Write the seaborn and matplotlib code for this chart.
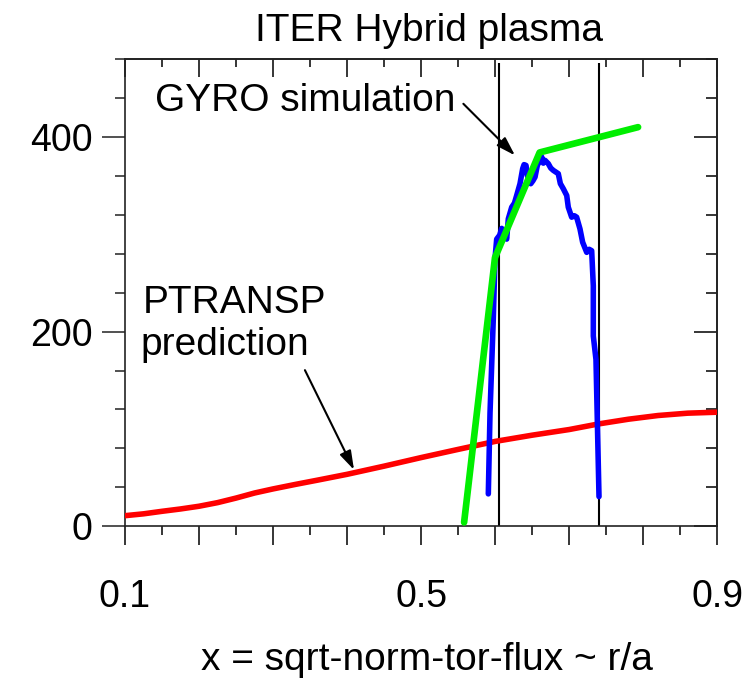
import numpy as np
import matplotlib
matplotlib.use('Agg')
import matplotlib.pyplot as plt
from matplotlib.ticker import MultipleLocator
import seaborn as sns

sns.set_theme(style='white')
plt.rcParams['font.family'] = ['Liberation Sans', 'DejaVu Sans']

# PTRANSP prediction (red)
ptransp_x = [0.100, 0.125, 0.150, 0.175, 0.200, 0.225, 0.250, 0.275, 0.300,
             0.330, 0.360, 0.400, 0.450, 0.500, 0.550, 0.600, 0.650, 0.700,
             0.740, 0.780, 0.820, 0.860, 0.900]
ptransp_y = [10.9, 12.8, 15.4, 17.8, 20.6, 24.3, 29.0, 34.2, 38.4,
             43.0, 47.4, 53.4, 61.8, 70.6, 79.0, 87.2, 93.6, 99.4,
             105.2, 110.0, 113.8, 116.2, 117.2]

# GYRO simulation (blue)
gyro_x = [0.5907, 0.5930, 0.5974, 0.5997, 0.6020, 0.6060, 0.6088, 0.6120,
          0.6155, 0.6177, 0.6223, 0.6260, 0.6290, 0.6335, 0.6371, 0.6390,
          0.6416, 0.6434, 0.6480, 0.6510, 0.6538, 0.6569, 0.6628, 0.6650,
          0.6673, 0.6717, 0.6750, 0.6785, 0.6852, 0.6880, 0.6920, 0.6966,
          0.6987, 0.7033, 0.7070, 0.7100, 0.7145, 0.7181, 0.7236, 0.7270,
          0.7303, 0.7325, 0.7325, 0.7361, 0.7379, 0.7402]
gyro_y = [33.3, 116.5, 212.7, 274.5, 295.0, 299.0, 306.0, 302.0,
          295.0, 315.8, 327.8, 332.0, 339.8, 351.9, 367.3, 371.5,
          370.7, 360.4, 351.9, 355.0, 358.8, 370.7, 379.4, 373.0,
          375.9, 372.5, 368.0, 365.6, 362.2, 352.0, 346.7, 339.8,
          327.8, 317.5, 319.0, 317.5, 305.5, 291.8, 281.4, 284.5,
          283.1, 247.0, 195.5, 171.4, 109.6, 30.5]

# piecewise fit (green)
fit_x = [0.558, 0.5997, 0.6600, 0.793]
fit_y = [4.0, 276.0, 384.0, 410.0]

# radial window
bound_x = [0.605, 0.740]

xtick_vals = [0.1, 0.2, 0.3, 0.4, 0.5, 0.6, 0.7, 0.8, 0.9]
xtick_labels = ['0.1', '', '', '', '0.5', '', '', '', '0.9']
ytick_vals = [0, 200, 400]
ytick_labels = ['0', '200', '400']

fig = plt.figure(figsize=(7.49, 6.79), dpi=100)
ax = fig.add_axes([0.1669, 0.2249, 0.7908, 0.6882])

ax.vlines(bound_x, 0, 476, color='black', linewidth=1.5, zorder=2)
sns.lineplot(x=ptransp_x, y=ptransp_y, ax=ax, color='#ff0000', linewidth=4.0,
             sort=False, estimator=None, zorder=3)
sns.lineplot(x=gyro_x, y=gyro_y, ax=ax, color='#0000ff', linewidth=4.0,
             sort=False, estimator=None, zorder=4)
sns.lineplot(x=fit_x, y=fit_y, ax=ax, color='#00ee00', linewidth=4.8,
             sort=False, estimator=None, zorder=5)

ax.set_xlim(0.1, 0.9)
ax.set_ylim(0, 480)
ax.set_xticks(xtick_vals, xtick_labels)
ax.set_yticks(ytick_vals, ytick_labels)
ax.xaxis.set_minor_locator(MultipleLocator(0.05))
ax.yaxis.set_minor_locator(MultipleLocator(40))

for s in ax.spines.values():
    s.set_color('#222222')
    s.set_linewidth(1.2)

ax.tick_params(axis='x', which='major', direction='out', length=13.7, width=1.1,
               pad=24, labelsize=27, bottom=True, color='black', labelcolor='black')
ax.tick_params(axis='x', which='minor', direction='out', length=6.5, width=1.1,
               bottom=True, color='black')
ax.tick_params(axis='y', which='major', direction='out', length=16.5, width=1.1,
               pad=7, labelsize=27, left=True, color='#222222', labelcolor='black')
ax.tick_params(axis='y', which='minor', direction='out', length=7.2, width=1.1,
               left=True, color='#222222')

top = ax.secondary_xaxis('top')
top.set_xticks(xtick_vals)
top.xaxis.set_minor_locator(MultipleLocator(0.05))
top.tick_params(which='major', direction='in', length=13, width=1.1, top=True,
                labeltop=False, color='black')
top.tick_params(which='minor', direction='in', length=5.8, width=1.1, top=True,
                color='black')
top.spines['top'].set_color('#222222')

right = ax.secondary_yaxis('right')
right.set_yticks(ytick_vals)
right.yaxis.set_minor_locator(MultipleLocator(40))
right.tick_params(which='major', direction='in', length=16.5, width=1.1, right=True,
                  labelright=False, color='black')
right.tick_params(which='minor', direction='in', length=8, width=1.1, right=True,
                  color='black')
right.spines['right'].set_color('#222222')

ax.set_title('ITER Hybrid plasma', fontsize=28, x=0.514, y=1.0, pad=13, color='black')
ax.set_xlabel('x = sqrt-norm-tor-flux ~ r/a', fontsize=28, labelpad=20, color='black')
ax.xaxis.label.set_x(0.51)
ax.set_ylabel('')

ax.text(0.1405, 427, 'GYRO simulation', fontsize=28, va='baseline', ha='left', color='black')
ax.text(0.1239, 219.6, 'PTRANSP', fontsize=28, va='baseline', ha='left', color='black')
ax.text(0.1210, 176.3, 'prediction', fontsize=28, va='baseline', ha='left', color='black')

arrow = dict(arrowstyle='-|>,head_length=0.95,head_width=0.3', color='black',
             linewidth=1.5, shrinkA=0, shrinkB=0)
ax.annotate('', xy=(0.6267, 381), xytext=(0.557, 434), arrowprops=arrow, zorder=6)
ax.annotate('', xy=(0.4093, 58), xytext=(0.343, 160.4), arrowprops=arrow, zorder=6)

fig.savefig('out.png', dpi=100)
